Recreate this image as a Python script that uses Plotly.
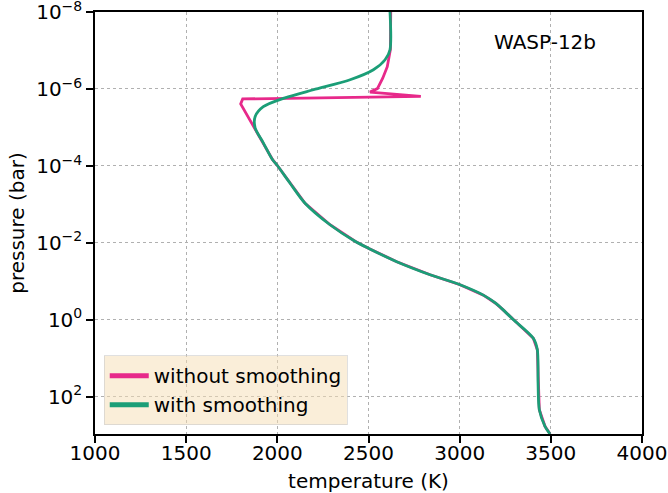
import plotly.graph_objects as go

# with smoothing (green): temperature (K) and log10 pressure (bar)
T_smooth = [2618, 2618, 2591, 2527, 2399, 2198, 2042, 1923, 1878, 1878, 1923, 1974, 1997,
            2070, 2152, 2289, 2426, 2499, 2655, 2838, 3002, 3130, 3197, 3240, 3295, 3404, 3426,
            3430, 3437, 3468, 3496]
logP_smooth = [-8.0, -7.02, -6.76, -6.50, -6.24, -5.98, -5.77, -5.54, -5.28, -4.99, -4.60, -4.16, -4.03,
               -3.55, -3.03, -2.47, -2.04, -1.86, -1.51, -1.17, -0.91, -0.64, -0.43, -0.25, 0.00, 0.48, 0.78,
               1.65, 2.34, 2.77, 2.97]

# without smoothing (pink): upper part differs, lower part follows smoothed profile
T_raw = [2622, 2620, 2603, 2578, 2549, 2508, 2787, 1810, 1799, 1869, 1923, 1974, 1997,
         2070, 2152, 2289, 2426, 2499, 2655, 2838, 3002, 3130, 3197, 3240, 3295, 3404, 3426,
         3430, 3437, 3468, 3496]
logP_raw = [-8.0, -7.02, -6.58, -6.28, -6.01, -5.92, -5.81, -5.74, -5.61, -5.02, -4.60, -4.16, -4.03,
            -3.55, -3.03, -2.47, -2.04, -1.86, -1.51, -1.17, -0.91, -0.64, -0.43, -0.25, 0.00, 0.48, 0.78,
            1.65, 2.34, 2.77, 2.97]

P_smooth = [10 ** v for v in logP_smooth]
P_raw = [10 ** v for v in logP_raw]

x_ticks = [1000, 1500, 2000, 2500, 3000, 3500, 4000]
y_tick_exp = [-8, -6, -4, -2, 0, 2]

PINK = "#e7298a"
GREEN = "#1b9e77"
FONT = "DejaVu Sans"

fig = go.Figure()
fig.add_trace(go.Scatter(x=T_raw, y=P_raw, mode="lines", line=dict(color=PINK, width=2.8),
                         showlegend=False))
fig.add_trace(go.Scatter(x=T_smooth, y=P_smooth, mode="lines",
                         line=dict(color=GREEN, width=2.8, shape="spline", smoothing=0.8),
                         showlegend=False))
# legend entries with thicker lines
fig.add_trace(go.Scatter(x=[None], y=[None], mode="lines", line=dict(color=PINK, width=5),
                         name="without smoothing"))
fig.add_trace(go.Scatter(x=[None], y=[None], mode="lines", line=dict(color=GREEN, width=5),
                         name="with smoothing"))

fig.update_layout(
    width=668, height=493,
    margin=dict(l=95, r=26, t=12, b=59),
    paper_bgcolor="white", plot_bgcolor="white",
    font=dict(family=FONT, size=20, color="black"),
    legend=dict(x=0.016, y=0.021, xanchor="left", yanchor="bottom",
                bgcolor="rgba(245,222,179,0.5)", bordercolor="rgba(204,204,204,0.6)",
                borderwidth=1, font=dict(size=20), tracegroupgap=0, itemwidth=39),
    annotations=[dict(text="WASP-12b", x=0.823, y=0.929, xref="paper", yref="paper",
                      showarrow=False, font=dict(size=20), xanchor="center", yanchor="middle")],
)
common = dict(
    showgrid=True, gridcolor="#b0b0b0", griddash="dot", gridwidth=1,
    showline=True, linecolor="black", linewidth=1.5, mirror=True,
    ticks="outside", ticklen=7, tickwidth=1.5, tickcolor="black", zeroline=False,
    automargin=False, tickfont=dict(size=20), ticklabeloverflow="allow",
)
fig.update_xaxes(
    range=[999.9, 4000.1], tickvals=x_ticks, ticktext=[str(v) for v in x_ticks],
    ticklabelstandoff=-7,
    title=dict(text="temperature (K)", standoff=12, font=dict(size=20)), **common,
)
fig.update_yaxes(
    type="log", range=[2.97, -8.001],
    tickvals=[10 ** e for e in y_tick_exp],
    ticktext=["10<sup>%s</sup>" % (str(e).replace("-", "\u2212")) for e in y_tick_exp],
    title=dict(text="pressure (bar)", standoff=6, font=dict(size=20)), **common,
)

fig.write_html("out.html")
